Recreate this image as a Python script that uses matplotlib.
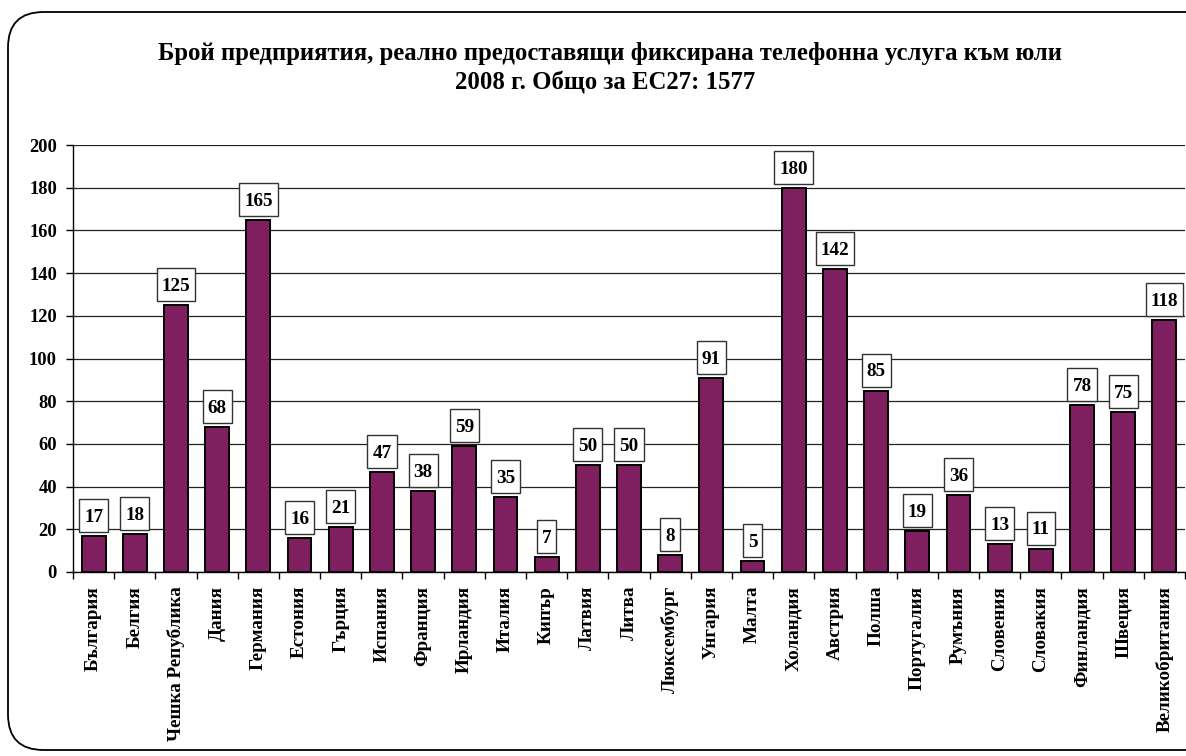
import matplotlib
matplotlib.use("Agg")
import matplotlib.pyplot as plt
from matplotlib.patches import Rectangle, FancyBboxPatch
from matplotlib.transforms import IdentityTransform
import numpy as np

categories = ["България", "Белгия", "Чешка Република", "Дания", "Германия", "Естония",
              "Гърция", "Испания", "Франция", "Ирландия", "Италия", "Кипър", "Латвия",
              "Литва", "Люксембург", "Унгария", "Малта", "Холандия", "Австрия", "Полша",
              "Португалия", "Румъния", "Словения", "Словакия", "Финландия", "Швеция",
              "Великобритания"]
values = [17, 18, 125, 68, 165, 16, 21, 47, 38, 59, 35, 7, 50, 50, 8, 91, 5, 180, 142,
          85, 19, 36, 13, 11, 78, 75, 118]
yticks = [0, 20, 40, 60, 80, 100, 120, 140, 160, 180, 200]
title_line1 = "Брой предприятия, реално предоставящи фиксирана телефонна услуга към юли"
title_line2 = "2008 г. Общо за ЕС27: 1577"

plt.rcParams['font.family'] = ['Liberation Serif', 'DejaVu Serif']
plt.rcParams['font.weight'] = 'bold'

W, H = 1186, 756
fig = plt.figure(figsize=(W / 100, H / 100), dpi=100)
fig.patch.set_facecolor('white')

# rounded frame (right side runs off the image)
frame = FancyBboxPatch((8 / W, 6 / H), 1.2, (750 - 12) / H,
                       boxstyle="round,pad=0,rounding_size=0.03",
                       transform=fig.transFigure, fill=False, ec='black', lw=1.3,
                       mutation_aspect=W / H)
fig.add_artist(frame)

ax = fig.add_axes([73 / W, (756 - 572) / H, (1185 - 73) / W, (572 - 145) / H])
x = np.arange(len(categories))
ax.bar(x, values, width=0.58, color='#7F1F5F', edgecolor='black', linewidth=1.4, zorder=3)
ax.set_xlim(-0.5, len(categories) - 0.5)
ax.set_ylim(0, 200)
ax.set_yticks(yticks)
ax.set_yticklabels([str(v) for v in yticks], fontsize=13.3, fontweight='bold')
ax.yaxis.grid(True, color='#222222', linewidth=0.9, zorder=0)
ax.set_axisbelow(True)
for s in ['top', 'right']:
    ax.spines[s].set_visible(False)
ax.spines['left'].set_linewidth(1.0)
ax.spines['bottom'].set_linewidth(1.0)
ax.tick_params(axis='y', direction='out', length=5, width=1, pad=6.5)

ax.set_xticks(x)
ax.set_xticklabels(categories, rotation=90, fontsize=13.8, fontweight='bold', va='top', ha='center')
ax.set_xticks(np.arange(len(categories) + 1) - 0.5, minor=True)
ax.tick_params(axis='x', which='major', length=0, pad=10)
ax.tick_params(axis='x', which='minor', direction='out', length=5, width=1)

fig.text(0.514, 1 - 60 / H, title_line1, ha='center', va='baseline', fontsize=17.8,
         fontweight='bold')
fig.text(0.510, 1 - 90 / H, title_line2, ha='center', va='baseline', fontsize=17.8,
         fontweight='bold')

texts = []
for xi, v in zip(x, values):
    t = ax.annotate(str(v), (xi, v), xytext=(0, 10.1), textcoords='offset points',
                    ha='center', va='baseline', fontsize=13.8, fontweight='bold', zorder=7)
    texts.append(t)

fig.canvas.draw()
r = fig.canvas.get_renderer()
for t, xi, v in zip(texts, x, values):
    bb = t.get_window_extent(r)
    cx, cy = ax.transData.transform((xi, v))
    cy = cy + 20.5
    w = bb.width + 10
    h = 33
    rect = Rectangle((cx - w / 2, cy - h / 2), w, h, transform=IdentityTransform(),
                     facecolor='white', edgecolor='#333333', lw=1.0, zorder=5)
    ax.add_artist(rect)
    rect.set_clip_on(False)

fig.savefig('out.png', dpi=100)
